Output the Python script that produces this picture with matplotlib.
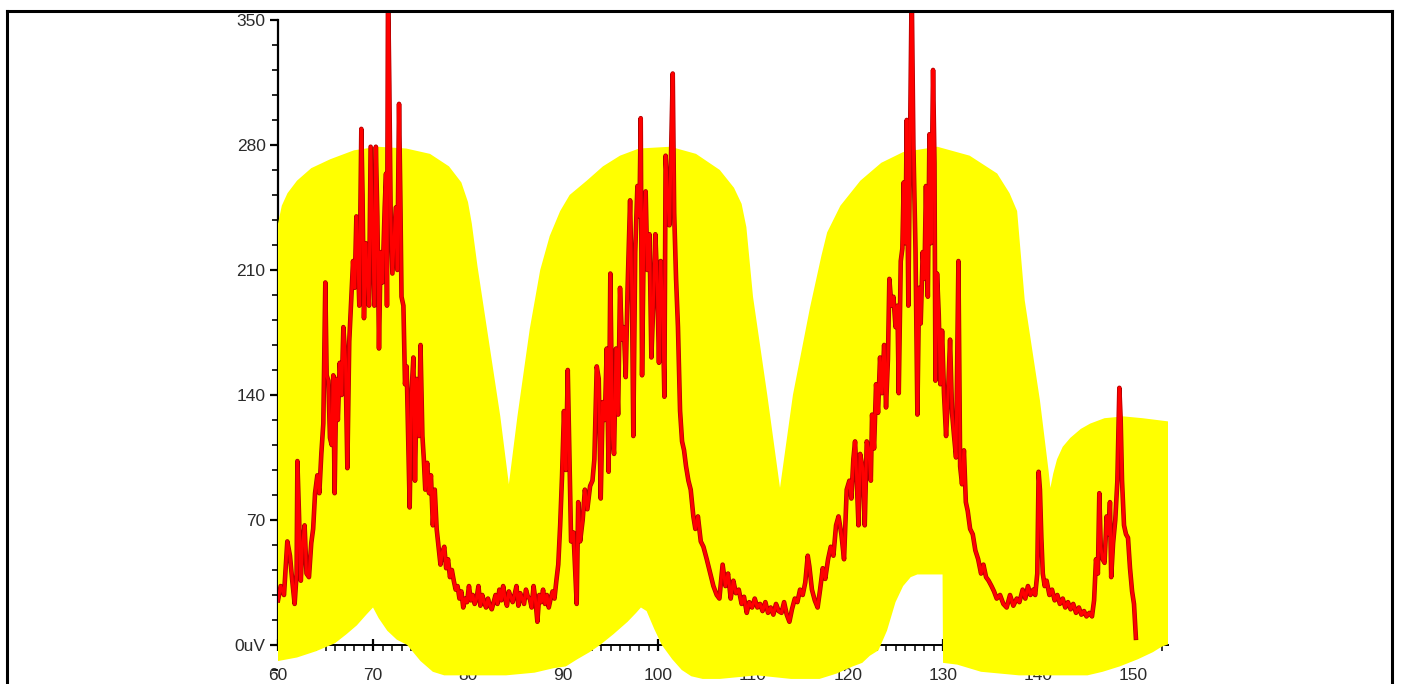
import matplotlib

matplotlib.use("Agg")
import matplotlib.pyplot as plt  # noqa: E402
from matplotlib.lines import Line2D  # noqa: E402
from matplotlib.ticker import FixedLocator, MultipleLocator  # noqa: E402

# red trace in pieces (x in the chart's own units)
peak1_x = [60.0, 60.28, 60.63, 60.98, 61.26, 61.5, 61.75, 61.96, 62.04, 62.2, 62.4, 62.56, 62.8, 63.0,
           63.26, 63.5, 63.7, 63.9, 64.14, 64.35, 64.56, 64.77, 64.98, 65.12, 65.3, 65.47, 65.65, 65.82,
           65.96, 66.14, 66.3, 66.5, 66.7, 66.88, 67.1, 67.3, 67.5, 67.72, 67.9, 68.07, 68.25, 68.42,
           68.56, 68.77, 68.9, 69.05, 69.23, 69.4, 69.58, 69.75, 69.96, 70.14, 70.3, 70.46, 70.63, 70.8,
           71.0, 71.23, 71.37, 71.47, 71.58, 71.72, 71.86, 72.04, 72.2, 72.4, 72.56, 72.74, 72.88, 73.0,
           73.2, 73.37, 73.54, 73.7, 73.86, 74.04, 74.25, 74.42, 74.6, 74.84]
peak1_y = [25, 33, 28, 58, 50, 36, 23, 40, 103, 75, 36, 55, 67, 40,
           38, 57, 65, 85, 95, 85, 107, 124, 203, 151, 148, 116, 112, 151,
           85, 149, 126, 158, 140, 178, 160, 99, 170, 195, 215, 200, 240, 215,
           190, 289, 252, 183, 225, 205, 190, 279, 230, 190, 279, 240, 166, 220,
           203, 245, 264, 190, 370, 313, 240, 208, 224, 245, 210, 303, 250, 195,
           190, 146, 156, 117, 77, 140, 161, 92, 149, 117]

valley1_x = [75.0, 75.2, 75.35, 75.5, 75.7, 75.9, 76.1, 76.3, 76.5, 76.7, 76.9, 77.1, 77.3, 77.5, 77.7,
             77.9, 78.1, 78.3, 78.5, 78.7, 78.9, 79.1, 79.3, 79.5, 79.7, 79.9, 80.1, 80.3, 80.5, 80.7,
             80.9, 81.1, 81.3, 81.5, 81.7, 81.9, 82.1, 82.3, 82.5, 82.7, 82.9, 83.1, 83.3, 83.5, 83.7,
             83.9, 84.1, 84.3, 84.5, 84.7, 84.9, 85.1, 85.3, 85.5, 85.7, 85.9, 86.1, 86.3, 86.5, 86.7,
             86.9, 87.1, 87.3, 87.5, 87.7, 87.9, 88.1, 88.3, 88.5, 88.7, 88.9, 89.1, 89.3, 89.5, 89.7,
             89.9, 90.1, 90.3, 90.5, 90.7]
valley1_y = [168, 117, 104, 87, 102, 85, 95, 67, 87, 65, 55, 45, 52, 55, 43,
             48, 38, 42, 36, 31, 33, 26, 30, 21, 26, 24, 33, 25, 28, 23,
             26, 33, 22, 28, 24, 21, 26, 22, 20, 24, 28, 23, 31, 25, 33,
             26, 22, 30, 27, 24, 28, 33, 22, 29, 26, 23, 31, 27, 26, 21,
             33, 25, 13, 28, 24, 31, 23, 28, 21, 26, 30, 26, 36, 45, 67,
             95, 131, 98, 154, 100]

peak2_x = [90.85, 91.1, 91.27, 91.44, 91.6, 91.8, 92.07, 92.3, 92.56, 92.85, 93.1, 93.3, 93.55, 93.76,
           93.97, 94.18, 94.4, 94.6, 94.8, 94.98, 95.2, 95.37, 95.58, 95.8, 96.0, 96.2, 96.4, 96.6,
           96.8, 97.06, 97.27, 97.4, 97.6, 97.83, 98.04, 98.18, 98.32, 98.53, 98.7, 98.88, 99.1, 99.3,
           99.5, 99.72, 99.93, 100.1, 100.28, 100.5, 100.67, 100.8, 100.98, 101.2, 101.37, 101.55,
           101.7, 101.9, 102.1, 102.32, 102.53, 102.74, 102.95, 103.2, 103.44, 103.72, 103.93, 104.2,
           104.5, 104.78, 105.13, 105.5, 105.83, 106.18, 106.46]
peak2_y = [58, 63, 43, 23, 80, 58, 70, 87, 76, 89, 92, 104, 156, 149,
           82, 136, 126, 166, 97, 208, 117, 107, 166, 129, 200, 171, 178, 150,
           200, 249, 190, 117, 220, 257, 240, 295, 151, 240, 254, 210, 230, 161,
           190, 230, 200, 158, 215, 185, 139, 274, 254, 235, 274, 320,
           242, 205, 178, 131, 114, 109, 100, 92, 87, 72, 65, 72,
           58, 55, 48, 40, 33, 28, 26]

valley2_x = [106.8, 107.1, 107.37, 107.65, 107.93, 108.2, 108.5, 108.8, 109.05, 109.34, 109.6, 109.9,
             110.18, 110.46, 110.74, 111.0, 111.3, 111.58, 111.86, 112.14, 112.42, 112.7, 113.0, 113.27,
             113.55, 113.83, 114.1, 114.4, 114.67, 114.95, 115.23, 115.5, 115.76, 115.93, 116.2, 116.5,
             116.8, 117.06, 117.34, 117.6, 117.9, 118.18, 118.46, 118.74, 119.0, 119.3, 119.58, 119.86,
             120.14, 120.35, 120.56, 120.74, 120.9, 121.1, 121.27, 121.55, 121.76, 121.97, 122.2]
valley2_y = [45, 33, 40, 26, 36, 29, 31, 23, 27, 18, 24, 21,
             26, 21, 23, 19, 24, 18, 21, 17, 23, 19, 18, 24,
             17, 13, 20, 26, 24, 31, 28, 35, 50, 44, 31, 25,
             21, 31, 43, 37, 48, 55, 50, 67, 72, 62, 48, 87,
             92, 82, 104, 114, 95, 67, 107, 99, 67, 114, 109]

peak3_x = [122.4, 122.53, 122.74, 122.95, 123.16, 123.37, 123.58, 123.8, 124.0, 124.2, 124.35, 124.57,
           124.78, 125.0, 125.2, 125.34, 125.55, 125.72, 125.86, 126.04, 126.18, 126.35, 126.53, 126.7,
           126.88, 127.1, 127.3, 127.48, 127.65, 127.86, 128.04, 128.2, 128.4, 128.57, 128.74, 128.95,
           129.1, 129.2, 129.37, 129.55, 129.72, 129.9, 130.1, 130.32, 130.53, 130.74, 130.95, 131.16,
           131.37, 131.62, 131.8, 132.0, 132.2, 132.4, 132.6, 132.85, 133.13, 133.4, 133.7, 134.0,
           134.25, 134.53, 134.8, 135.1, 135.37, 135.65, 136.0, 136.35, 136.7, 137.05, 137.4, 137.76,
           138.04]
peak3_y = [92, 129, 110, 146, 130, 161, 141, 168, 133, 160, 205, 190,
           195, 178, 190, 141, 215, 222, 259, 225, 294, 190, 280, 370,
           280, 222, 129, 200, 180, 220, 205, 257, 195, 286, 225, 322,
           270, 148, 208, 185, 146, 176, 141, 117, 141, 171, 130, 117,
           105, 215, 100, 90, 109, 80, 75, 65, 62, 53, 48, 40,
           45, 38, 36, 33, 30, 26, 28, 23, 21, 28, 22, 26,
           24]

tail_x = [138.38, 138.66, 138.94, 139.2, 139.5, 139.7, 139.92, 140.06, 140.2, 140.35, 140.5, 140.7,
          140.9, 141.2, 141.47, 141.75, 142.03, 142.3, 142.6, 142.87, 143.15, 143.43, 143.7, 144.0,
          144.3, 144.56, 144.84, 145.1, 145.4, 145.68, 145.9, 146.1, 146.3, 146.45, 146.6, 146.8,
          147.0, 147.22, 147.43, 147.57, 147.7, 147.9, 148.13, 148.35, 148.56, 148.7, 148.84, 149.05,
          149.26, 149.47, 149.68, 149.9, 150.1, 150.3]
tail_y = [31, 26, 33, 28, 31, 28, 40, 97, 87, 60, 40, 33,
          36, 28, 31, 25, 28, 23, 26, 21, 24, 20, 23, 18,
          21, 17, 19, 16, 18, 16, 25, 48, 40, 85, 55, 48,
          46, 72, 62, 80, 38, 57, 70, 92, 144, 126, 92, 67,
          62, 60, 43, 30, 23, 4]

# yellow highlighter band: upper and lower outline
band_top_x = [60.0, 60.4, 61.0, 62.0, 63.5, 65.5, 68.0, 70.5, 73.5, 76.0, 78.0, 79.3, 80.0, 80.4,
              81.0, 82.0, 83.4, 84.3, 85.2, 86.5, 87.6, 88.6, 89.7, 90.7, 92.5, 94.2, 96.0, 98.0,
              101.3, 104.0, 106.5, 108.0, 108.8, 109.3, 110.0, 111.5, 112.84, 114.2, 116.0, 117.2,
              117.8, 119.2, 121.3, 123.5, 125.8, 129.4, 132.8, 135.7, 137.0, 137.8, 138.6, 140.2,
              141.1, 141.3, 141.6, 142.0, 142.6, 143.4, 144.5, 145.5, 147.0, 149.0, 151.0, 154.0]
band_top_y = [236, 246, 253, 260, 267, 272, 277, 279, 278, 275, 268, 259, 248, 236,
              212, 177, 128, 90, 128, 177, 210, 229, 243, 252, 260, 268, 274, 278,
              279, 275, 266, 256, 247, 234, 195, 140, 88, 140, 189, 218,
              231, 246, 260, 270, 276, 279, 274, 264, 253, 243, 193, 137,
              98, 88, 96, 104, 111, 116, 121, 124, 127, 128, 127, 125]
band_bottom_x = [60.0, 62.0, 64.0, 66.0, 67.2, 68.3, 69.3, 70.0, 70.6, 71.5, 72.5, 73.6, 75.0, 76.3,
                 77.5, 81.0, 84.0, 87.0, 89.0, 90.3, 91.5, 92.8, 93.9, 95.3, 96.8, 97.7, 98.2, 98.8,
                 99.6, 100.4, 101.5, 102.5, 103.5, 104.7, 106.5, 110.4, 114.0, 117.0, 118.8, 120.5,
                 121.5, 122.3, 123.2, 124.1, 125.0, 125.8, 126.6, 127.3, 129.95, 130.0, 131.5, 134.0,
                 138.0, 145.2, 146.8, 148.6, 150.5, 152.1, 153.0, 154.0]
band_bottom_y = [-9, -7, -3.5, 1, 6, 11, 17, 21, 15, 8, 3, 0, -9, -15,
                 -17, -17, -17, -15.5, -13, -12, -8, -4, 0, 6, 13, 18, 21, 19,
                 9, 0, -8, -14, -17.5, -19, -19, -17, -19, -19, -16, -12,
                 -10, -6, -3, 8, 24, 33, 38, 39.5, 39.5, -10, -11, -15,
                 -17, -17, -15, -12, -8, -4, -1, 1]

y_ticks = [0, 70, 140, 210, 280, 350]
y_tick_labels = ["0uV", "70", "140", "210", "280", "350"]
x_ticks = [60, 70, 80, 90, 100, 110, 120, 130, 140, 150]
x_tick_labels = ["60", "70", "80", "90", "100", "110", "120", "130", "140", "150"]

W, H = 1401, 684
fig = plt.figure(figsize=(W / 100, H / 100), dpi=100, facecolor="white")
ax = fig.add_axes([278 / W, 0, (1168 - 278) / W, (H - 11) / H])
ax.set_xlim(60, 153.68)
ax.set_ylim(-21.84, 355.0)
ax.patch.set_visible(False)

for side in ("top", "right"):
    ax.spines[side].set_visible(False)
ax.spines["left"].set_bounds(0, 350)
ax.spines["left"].set_linewidth(1.6)
ax.spines["bottom"].set_position(("data", 0))
ax.spines["bottom"].set_linewidth(1.4)

ax.yaxis.set_major_locator(FixedLocator(y_ticks))
ax.set_yticklabels(y_tick_labels)
ax.yaxis.set_minor_locator(MultipleLocator(14))
ax.xaxis.set_major_locator(FixedLocator(x_ticks))
ax.set_xticklabels(x_tick_labels)
ax.xaxis.set_minor_locator(MultipleLocator(1))

for lab in ax.get_xticklabels() + ax.get_yticklabels():
    lab.set_fontfamily("Liberation Sans")
    lab.set_fontsize(12.5)
    lab.set_color("#2a2a2a")
ax.tick_params(axis="y", which="major", length=6, width=1.6, pad=3)
ax.tick_params(axis="y", which="minor", length=4, width=1.2)
ax.tick_params(axis="x", which="major", direction="inout", length=8, width=1.6, pad=12.5)
ax.tick_params(axis="x", which="minor", length=4, width=1.1)

# highlighter band covers the x axis and part of its labels
ax.fill(band_top_x + band_bottom_x[::-1], band_top_y + band_bottom_y[::-1],
        color="#ffff00", lw=0, zorder=3)

trace_x = peak1_x + valley1_x + peak2_x + valley2_x + peak3_x + tail_x
trace_y = peak1_y + valley1_y + peak2_y + valley2_y + peak3_y + tail_y
ax.plot(trace_x, trace_y, color="#b00000", lw=3.3, zorder=4)
ax.plot(trace_x, trace_y, color="#ff0000", lw=2.2, zorder=5)

# outer frame of the picture
left, right, top = 7 / W, 1392 / W, 1 - 11 / H
for xs, ys in (([left, left], [0, top]), ([left, right], [top, top]), ([right, right], [0, top])):
    fig.add_artist(Line2D(xs, ys, transform=fig.transFigure, color="black", lw=2.2))

fig.savefig("out.png", dpi=100, facecolor="white")
